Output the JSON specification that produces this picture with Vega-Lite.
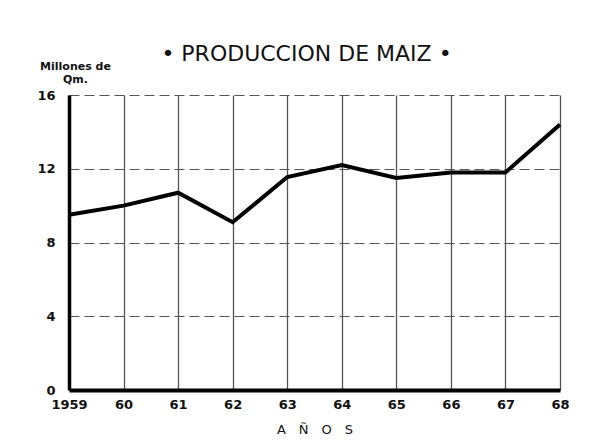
{
  "$schema": "https://vega.github.io/schema/vega-lite/v6.json",
  "width": 491,
  "height": 295,
  "autosize": {"type": "none"},
  "padding": {"left": 69, "top": 95, "right": 44, "bottom": 53},
  "background": "white",
  "title": {
    "text": "• PRODUCCION DE MAIZ •",
    "font": "DejaVu Sans",
    "fontSize": 22,
    "fontWeight": "normal",
    "color": "#111",
    "anchor": "middle",
    "offset": -6,
    "dx": -8
  },
  "config": {
    "view": {"stroke": null},
    "axis": {
      "labelFont": "DejaVu Sans",
      "labelFontWeight": "bold",
      "labelColor": "#111",
      "titleFont": "DejaVu Sans",
      "titleColor": "#111"
    }
  },
  "data": {
    "values": [
      {"year": 1959, "value": 9.5},
      {"year": 1960, "value": 10.0},
      {"year": 1961, "value": 10.7},
      {"year": 1962, "value": 9.1},
      {"year": 1963, "value": 11.55},
      {"year": 1964, "value": 12.2},
      {"year": 1965, "value": 11.5},
      {"year": 1966, "value": 11.8},
      {"year": 1967, "value": 11.8},
      {"year": 1968, "value": 14.4}
    ]
  },
  "mark": {"type": "line", "color": "#000", "strokeWidth": 4, "strokeJoin": "miter"},
  "encoding": {
    "x": {
      "field": "year",
      "type": "quantitative",
      "scale": {"domain": [1959, 1968], "nice": false, "zero": false},
      "axis": {
        "values": [1959, 1960, 1961, 1962, 1963, 1964, 1965, 1966, 1967, 1968],
        "labelExpr": "datum.value == 1959 ? '1959' : slice(toString(datum.value), 2)",
        "labelFlush": false,
        "labelFontSize": 13,
        "labelPadding": 8,
        "ticks": false,
        "domainColor": "#000",
        "domainWidth": 4,
        "grid": true,
        "gridColor": "#555",
        "gridWidth": 1.3,
        "gridOpacity": 1,
        "title": "A\u2003Ñ\u2003O\u2003S",
        "titleFontSize": 13,
        "titleFontWeight": "normal",
        "titlePadding": 12
      }
    },
    "y": {
      "field": "value",
      "type": "quantitative",
      "scale": {"domain": [0, 16], "nice": false},
      "axis": {
        "values": [0, 4, 8, 12, 16],
        "labelFontSize": 13,
        "labelPadding": 14,
        "ticks": false,
        "domainColor": "#000",
        "domainWidth": 3.5,
        "grid": true,
        "gridColor": "#555",
        "gridWidth": 1.2,
        "gridDash": [10, 5],
        "gridOpacity": 1,
        "title": ["Millones de", "Qm."],
        "titleFontSize": 11,
        "titleFontWeight": "bold",
        "titleAngle": 0,
        "titleAlign": "center",
        "titleBaseline": "alphabetic",
        "titleLineHeight": 13,
        "titleX": 6,
        "titleY": -26
      }
    }
  }
}
